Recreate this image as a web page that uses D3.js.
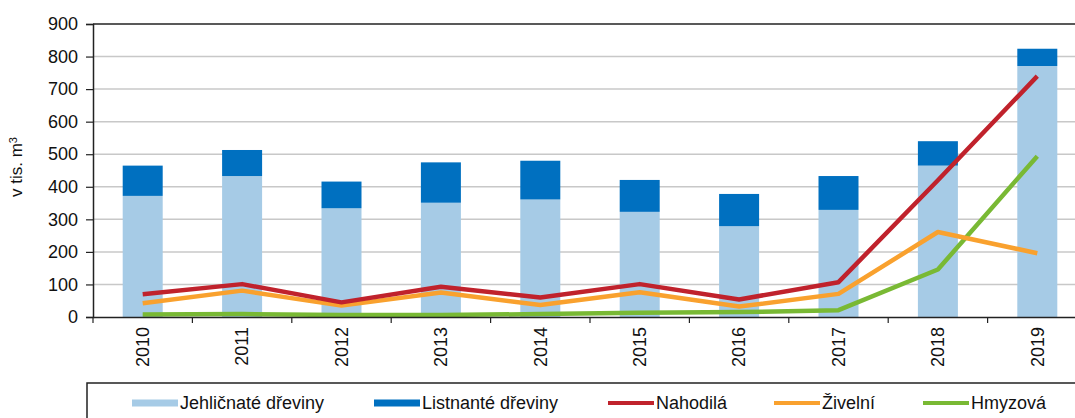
<!DOCTYPE html>
<html>
<head>
<meta charset="utf-8">
<script src="https://cdn.jsdelivr.net/npm/d3@7"></script>
<style>
  body { margin: 0; background: #fff; overflow: hidden; }
  svg { display: block; }
  text { font-family: "Liberation Sans", Arial, sans-serif; fill: #111; }
</style>
</head>
<body>
<div id="chart"></div>
<script>
// data (tis. m3)
const years = ["2010","2011","2012","2013","2014","2015","2016","2017","2018","2019"];
const jehlicnate = [372, 433, 334, 351, 361, 323, 279, 329, 465, 771];
const listnate   = [ 93,  80,  82, 124, 119,  98,  99, 104,  75,  53];
const nahodila   = [ 70, 101,  45,  93,  60, 101,  54, 107, 420, 740];
const zivelni    = [ 42,  81,  35,  75,  37,  76,  32,  71, 261, 196];
const hmyzova    = [  8,   9,   6,   6,   9,  13,  15,  21, 146, 494];
const yTicks = [0, 100, 200, 300, 400, 500, 600, 700, 800, 900];

const width = 1075, height = 418;
const margin = { left: 93, top: 24 };
const innerWidth = 994, innerHeight = 293;

const colors = {
  jehl: "#a6cbe6",
  list: "#0070c0",
  nah: "#c0222c",
  ziv: "#f9a12e",
  hmy: "#79b934"
};

const svg = d3.select("#chart").append("svg")
  .attr("width", width)
  .attr("height", height);

const g = svg.append("g")
  .attr("transform", `translate(${margin.left}, ${margin.top})`);

const xScale = d3.scaleBand().domain(years).range([0, innerWidth]);
const yScale = d3.scaleLinear().domain([0, 900]).range([innerHeight, 0]);

// gridlines
g.selectAll(".grid")
  .data(yTicks.slice(1, -1))
  .join("line")
  .attr("x1", 0).attr("x2", innerWidth)
  .attr("y1", d => yScale(d)).attr("y2", d => yScale(d))
  .attr("stroke", "#c8c8c8")
  .attr("stroke-width", 1.5);

// stacked bars
const barW = 40;
const bx = d => xScale(d) + xScale.bandwidth() / 2 - barW / 2;
g.selectAll(".bar-j")
  .data(years)
  .join("rect")
  .attr("x", bx)
  .attr("width", barW)
  .attr("y", (d, i) => yScale(jehlicnate[i]))
  .attr("height", (d, i) => innerHeight - yScale(jehlicnate[i]))
  .attr("fill", colors.jehl);
g.selectAll(".bar-l")
  .data(years)
  .join("rect")
  .attr("x", bx)
  .attr("width", barW)
  .attr("y", (d, i) => yScale(jehlicnate[i] + listnate[i]))
  .attr("height", (d, i) => yScale(jehlicnate[i]) - yScale(jehlicnate[i] + listnate[i]))
  .attr("fill", colors.list);

// lines
const line = d3.line()
  .x((d, i) => xScale(years[i]) + xScale.bandwidth() / 2)
  .y(d => yScale(d));
[[hmyzova, colors.hmy], [zivelni, colors.ziv], [nahodila, colors.nah]].forEach(([vals, c]) => {
  g.append("path")
    .attr("d", line(vals))
    .attr("fill", "none")
    .attr("stroke", c)
    .attr("stroke-width", 4.5)
    .attr("stroke-linejoin", "round");
});

// top frame line
g.append("line").attr("x1", 0).attr("x2", innerWidth).attr("y1", 0).attr("y2", 0)
  .attr("stroke", "#222").attr("stroke-width", 1.5);

// y axis
const yAxis = g.append("g")
  .call(d3.axisLeft(yScale).tickValues(yTicks).tickSize(7).tickPadding(8));
yAxis.select(".domain").attr("stroke", "#222").attr("stroke-width", 1.5);
yAxis.selectAll(".tick line").attr("stroke", "#222").attr("stroke-width", 1.2);
yAxis.selectAll("text").style("font-size", "18px").attr("fill", "#111")
  .style("font-family", "Liberation Sans, Arial, sans-serif");

// x axis
const xAxis = g.append("g")
  .attr("transform", `translate(0, ${innerHeight})`)
  .call(d3.axisBottom(xScale).tickSize(0).tickPadding(0));
xAxis.select(".domain").attr("stroke", "#222").attr("stroke-width", 1.5);
xAxis.selectAll("text")
  .style("font-size", "18px")
  .style("font-family", "Liberation Sans, Arial, sans-serif")
  .attr("fill", "#111")
  .attr("text-anchor", "end")
  .attr("dy", "0.35em")
  .attr("transform", "translate(0, 10) rotate(-90)");
// tick marks at category boundaries
g.selectAll(".xtick")
  .data(years)
  .join("line")
  .attr("x1", d => xScale(d)).attr("x2", d => xScale(d))
  .attr("y1", innerHeight).attr("y2", innerHeight + 6)
  .attr("stroke", "#222").attr("stroke-width", 1.2);

// y axis title
const yTitle = svg.append("text")
  .attr("transform", "translate(22, 167) rotate(-90)")
  .attr("text-anchor", "middle")
  .style("font-size", "17px");
yTitle.append("tspan").text("v tis. m");
yTitle.append("tspan").attr("dy", "-0.45em").style("font-size", "11px").text("3");

// legend (box runs off the right and bottom edge, as in the picture)
svg.append("path")
  .attr("d", "M1075,383 H87 V418")
  .attr("fill", "none")
  .attr("stroke", "#222")
  .attr("stroke-width", 1.5);

const legendItems = [
  { label: "Jehličnaté dřeviny", color: colors.jehl, x: 132, h: 7 },
  { label: "Listnanté dřeviny", color: colors.list, x: 374, h: 7 },
  { label: "Nahodilá", color: colors.nah, x: 608, h: 4 },
  { label: "Živelní", color: colors.ziv, x: 774, h: 4 },
  { label: "Hmyzová", color: colors.hmy, x: 923, h: 4 }
];
const leg = svg.selectAll(".legend")
  .data(legendItems)
  .join("g")
  .attr("transform", d => `translate(${d.x}, 403)`);
leg.append("rect")
  .attr("x", 0).attr("y", d => -d.h / 2)
  .attr("width", 46).attr("height", d => d.h)
  .attr("fill", d => d.color);
leg.append("text")
  .attr("x", 48).attr("y", 0)
  .attr("dy", "0.35em")
  .style("font-size", "18px")
  .text(d => d.label);
</script>
</body>
</html>
